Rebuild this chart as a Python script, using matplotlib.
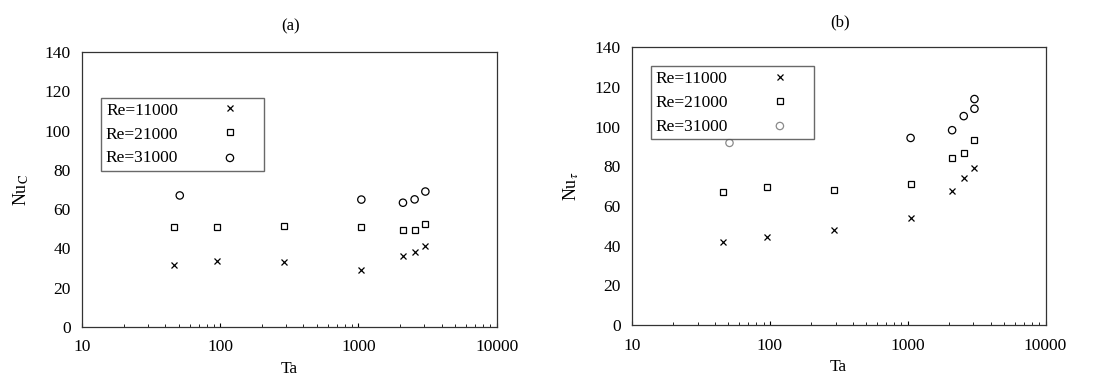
import matplotlib.pyplot as plt
import numpy as np

plt.rcParams['font.family'] = 'Liberation Serif'
plt.rcParams['mathtext.fontset'] = 'stix'

# Taylor number for each run
ta = [46, 95, 290, 1050, 2100, 2550, 3050]
ta_c31 = [51, 1050, 2100, 2550, 3050]
ta_t31 = [51, 1050, 2100, 2550, 3050, 3050]

# (a) Nu_C
nuc_11000 = [31.4, 33.4, 33.0, 29.2, 36.3, 38.0, 41.0]
nuc_21000 = [51.0, 51.0, 51.3, 50.8, 49.6, 49.6, 52.3]
nuc_31000 = [67.0, 64.9, 63.3, 65.0, 69.0]

# (b) Nu_tau
nut_11000 = [42.0, 44.5, 47.9, 54.2, 67.4, 74.0, 79.4]
nut_21000 = [66.9, 69.4, 68.2, 71.1, 84.3, 86.5, 93.4]
nut_31000 = [91.8, 94.3, 98.2, 105.3, 109.0, 113.9]
nut_31000_col = ['#8a8a8a', 'k', 'k', 'k', 'k', 'k']

labels = ['Re=11000', 'Re=21000', 'Re=31000']
yticks = [0, 20, 40, 60, 80, 100, 120, 140]
xticks = [10, 100, 1000, 10000]

fig = plt.figure(figsize=(11, 3.78), dpi=100)
ax1 = fig.add_axes([0.0745, 0.135, 0.377, 0.727])
ax2 = fig.add_axes([0.5745, 0.140, 0.376, 0.735])

ms = 5
def draw(ax, s1, s2, x3, s3, c3):
    ax.plot(ta, s1, 'x', color='k', ms=ms, mew=0.9, label=labels[0])
    ax.plot(ta, s2, 's', color='k', mfc='none', ms=ms, mew=0.9, label=labels[1])
    ax.scatter(x3, s3, s=28, marker='o', facecolors='none', edgecolors=c3,
               linewidths=0.9, label=labels[2], zorder=3)

draw(ax1, nuc_11000, nuc_21000, ta_c31, nuc_31000, 'k')
draw(ax2, nut_11000, nut_21000, ta_t31, nut_31000, nut_31000_col)

for ax, anchor, ylab in [(ax1, (0.046, 0.833), r'Nu$_\mathrm{C}$'),
                         (ax2, (0.046, 0.932), r'Nu$_\tau$')]:
    ax.set_xscale('log')
    ax.set_xlim(10, 10000)
    ax.set_ylim(0, 140)
    ax.set_xticks(xticks)
    ax.set_xticklabels([str(t) for t in xticks])
    ax.set_yticks(yticks)
    ax.tick_params(labelsize=12.5, direction='in', length=3, width=0.8)
    ax.tick_params(axis='x', pad=9)
    ax.tick_params(axis='y', length=0, pad=8)
    ax.tick_params(which='minor', direction='in', length=2, width=0.6)
    for sp in ax.spines.values():
        sp.set_color('#333333')
        sp.set_linewidth(0.9)
    ax.set_xlabel('Ta', fontsize=12.5, labelpad=4)
    ax.set_ylabel(ylab, fontsize=13, labelpad=10)
    leg = ax.legend(loc='upper left', bbox_to_anchor=anchor, borderaxespad=0,
                    markerfirst=False, fontsize=12.5, frameon=True,
                    fancybox=False, edgecolor='#444444', handlelength=3.4,
                    handletextpad=1.3, labelspacing=0.45, borderpad=0.25)
    leg.get_frame().set_linewidth(1.0)

fig.text(0.264, 0.929, '(a)', ha='center', va='center', fontsize=12)
fig.text(0.764, 0.942, '(b)', ha='center', va='center', fontsize=12)

fig.savefig('out.png', dpi=100)
